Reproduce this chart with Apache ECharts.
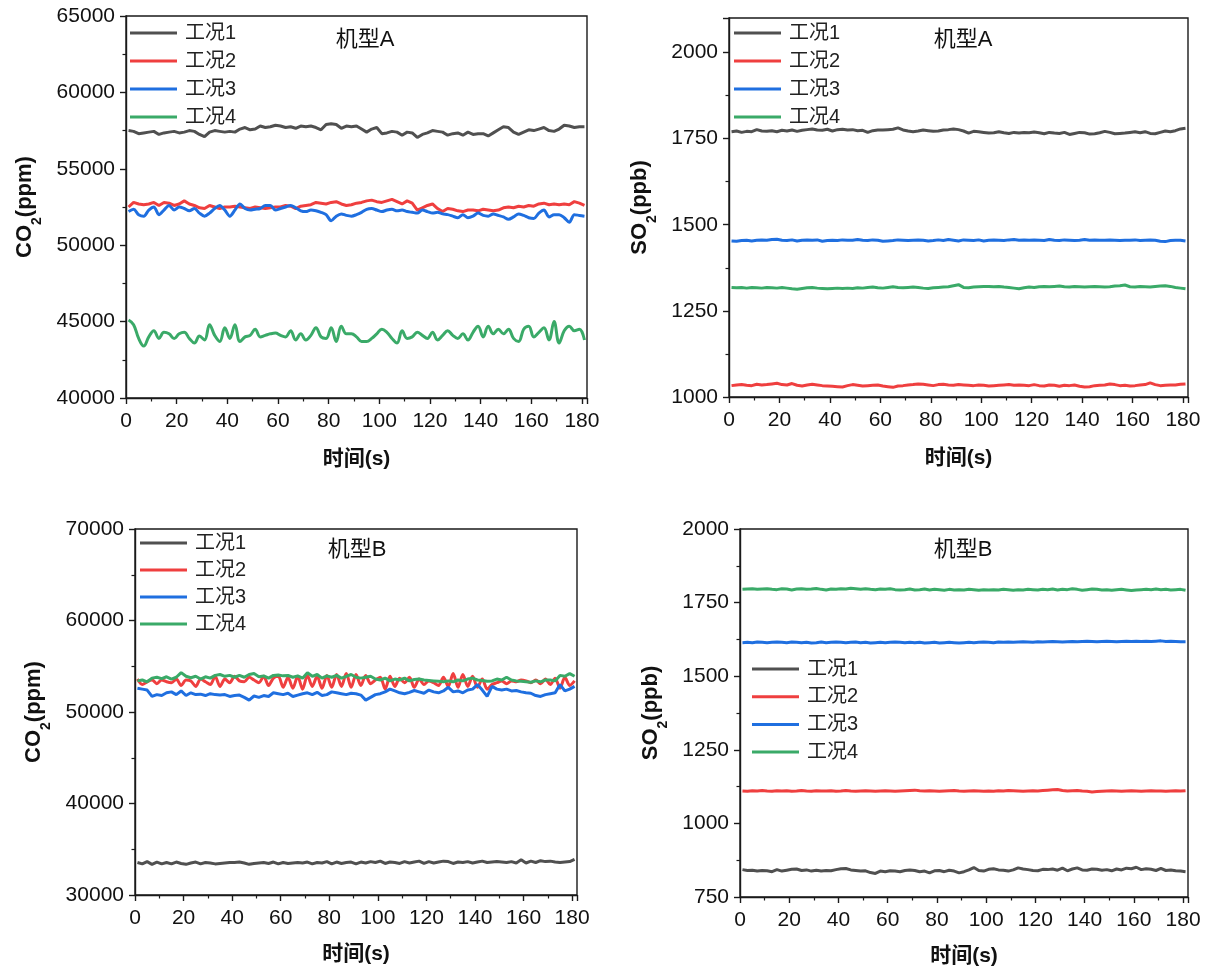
<!DOCTYPE html>
<html><head><meta charset="utf-8">
<script src="https://cdn.jsdelivr.net/npm/echarts@6/dist/echarts.min.js"></script>
<style>html,body{margin:0;padding:0;background:#fff}#c{width:1209px;height:971px}</style>
</head><body><div id="c"></div><script>
const times = [1,3,5,7,9,11,13,15,17,19,21,23,25,27,29,31,33,35,37,39,41,43,45,47,49,51,53,55,57,59,61,63,65,67,69,71,73,75,77,79,81,83,85,87,89,91,93,95,97,99,101,103,105,107,109,111,113,115,117,119,121,123,125,127,129,131,133,135,137,139,141,143,145,147,149,151,153,155,157,159,161,163,165,167,169,171,173,175,177,179,181];
const names = ['工况1','工况2','工况3','工况4'];
const xTicks = [0,20,40,60,80,100,120,140,160,180];

// 机型A CO2 (ppm)
const aCO2_1 = [57500,57450,57300,57350,57400,57450,57250,57350,57400,57450,57350,57400,57500,57450,57250,57100,57400,57500,57450,57400,57450,57400,57600,57700,57550,57600,57800,57700,57750,57850,57800,57700,57750,57650,57800,57750,57800,57700,57550,57900,57950,57900,57650,57800,57750,57800,57600,57400,57600,57700,57300,57350,57450,57400,57200,57400,57350,57050,57250,57350,57500,57450,57400,57200,57300,57350,57200,57400,57250,57300,57300,57150,57350,57550,57750,57700,57400,57250,57400,57550,57500,57600,57700,57500,57450,57600,57850,57800,57700,57750,57750];
const aCO2_2 = [52500,52800,52700,52650,52700,52800,52600,52800,52750,52600,52700,52900,52700,52600,52450,52400,52600,52500,52400,52500,52500,52550,52500,52450,52400,52500,52450,52400,52450,52500,52500,52600,52550,52400,52550,52600,52650,52800,52750,52700,52800,52850,52700,52600,52650,52750,52800,52900,52950,52850,52800,52900,53000,52850,52700,52900,52750,52300,52450,52600,52700,52400,52200,52400,52350,52250,52200,52300,52300,52250,52350,52300,52250,52300,52450,52500,52450,52550,52500,52600,52550,52700,52750,52650,52700,52650,52700,52650,52850,52750,52600];
const aCO2_3 = [52200,52350,52000,51900,52300,52500,52000,52300,52600,52300,52500,52400,52250,52400,52100,51900,52100,52400,52600,52300,51900,52300,52700,52400,52300,52350,52400,52600,52600,52300,52400,52500,52600,52450,52250,52200,52300,52250,52150,52000,51600,51900,52050,51950,51900,52000,52150,52350,52400,52300,52200,52300,52350,52250,52300,52200,52150,52100,52300,52200,52100,52150,52050,52000,51900,51800,52000,51800,51900,52100,51950,51900,52050,51950,51850,51700,51850,52050,51950,51800,51750,52100,52300,51850,52000,52000,51800,51500,52000,51950,51900];
const aCO2_4 = [45100,44800,43900,43400,44000,44400,43900,44300,44200,43900,44200,44300,43900,43600,44050,43800,44800,44100,43700,44600,43900,44800,43700,44000,44100,44500,44000,44100,44200,44250,44100,44000,44400,43800,44200,43800,44100,44600,44000,43900,44600,43700,44700,44200,44200,44000,43700,43700,43900,44200,44500,44300,43900,43600,44400,43900,44000,44300,44100,43900,44300,43800,44100,44400,44100,43900,44200,43800,44300,44700,44000,44700,44200,44500,44200,44500,43900,43700,44500,44700,44000,44300,44600,43800,45000,43600,44400,44700,44400,44500,43800];

// 机型A SO2 (ppb)
const aSO2_1 = [1770,1772,1768,1771,1770,1776,1772,1771,1773,1770,1774,1772,1775,1771,1774,1776,1778,1775,1774,1777,1772,1776,1777,1775,1776,1773,1774,1768,1773,1775,1775,1776,1777,1781,1775,1772,1770,1772,1775,1773,1771,1772,1775,1776,1778,1776,1772,1766,1771,1770,1768,1766,1767,1770,1767,1765,1768,1766,1768,1767,1769,1767,1764,1768,1766,1765,1768,1762,1765,1768,1767,1763,1764,1767,1771,1768,1764,1765,1766,1768,1770,1767,1770,1765,1764,1768,1772,1770,1773,1778,1780];
const aSO2_2 = [1033,1035,1036,1034,1033,1037,1035,1036,1038,1040,1036,1035,1039,1034,1032,1035,1037,1035,1033,1032,1031,1030,1029,1033,1036,1034,1032,1033,1034,1035,1032,1030,1028,1032,1033,1035,1036,1038,1037,1035,1033,1036,1037,1035,1034,1036,1035,1034,1033,1035,1034,1032,1033,1034,1035,1036,1034,1035,1034,1033,1036,1033,1032,1035,1034,1031,1034,1033,1035,1031,1029,1030,1033,1034,1035,1038,1036,1033,1034,1032,1033,1035,1036,1041,1036,1033,1034,1035,1035,1037,1038];
const aSO2_3 = [1453,1452,1454,1455,1453,1455,1456,1455,1457,1458,1455,1454,1456,1453,1455,1456,1455,1456,1452,1454,1455,1454,1456,1455,1455,1457,1455,1454,1456,1455,1452,1453,1454,1456,1455,1454,1455,1456,1455,1453,1454,1456,1454,1457,1455,1453,1456,1455,1454,1456,1453,1455,1456,1455,1454,1456,1457,1455,1456,1455,1456,1455,1454,1457,1455,1454,1456,1455,1454,1455,1457,1455,1456,1455,1455,1456,1455,1454,1455,1455,1456,1454,1455,1456,1455,1452,1451,1454,1455,1455,1453];
const aSO2_4 = [1318,1317,1318,1316,1318,1317,1316,1318,1317,1316,1318,1316,1314,1313,1315,1317,1318,1316,1315,1314,1315,1316,1315,1316,1315,1317,1316,1318,1319,1317,1316,1318,1320,1318,1317,1318,1319,1318,1316,1315,1317,1318,1319,1320,1323,1326,1318,1317,1319,1320,1321,1321,1320,1321,1319,1318,1316,1314,1317,1319,1318,1320,1321,1320,1321,1322,1320,1319,1321,1320,1319,1320,1321,1320,1319,1320,1322,1323,1325,1320,1319,1321,1320,1319,1321,1322,1323,1321,1318,1316,1314];

// 机型B CO2 (ppm)
const bCO2_1 = [33550,33400,33650,33350,33600,33400,33550,33400,33600,33450,33350,33500,33600,33400,33550,33500,33400,33450,33500,33550,33550,33600,33500,33350,33450,33500,33550,33450,33600,33400,33550,33450,33500,33550,33500,33600,33400,33550,33500,33650,33400,33600,33450,33550,33600,33400,33600,33500,33650,33550,33700,33450,33600,33550,33450,33650,33500,33600,33700,33450,33650,33500,33600,33700,33650,33450,33600,33550,33650,33500,33600,33700,33550,33600,33650,33600,33550,33650,33500,33850,33500,33700,33550,33750,33650,33700,33600,33550,33600,33650,33900];
const bCO2_2 = [53600,53000,53300,53500,53100,53500,53300,53200,53600,52900,53500,53400,52800,53600,53300,53000,53900,52800,53600,53200,53900,53400,53300,53800,53500,53200,53900,52900,53700,53900,52700,53800,52600,53900,52500,54000,52800,53900,52600,54000,52700,54100,52800,54200,52700,54100,52900,54000,53100,53500,53800,52500,53900,52800,53700,53200,53800,52700,53600,53000,53400,53200,52900,53800,52800,54200,52700,54100,52800,53900,52700,53600,52500,53000,53200,53400,53100,53400,53300,53500,53400,53200,53500,53100,53600,53000,53700,52600,53800,52900,53400];
const bCO2_3 = [52600,52500,52400,51700,51900,51800,52100,52200,51900,52300,51800,52100,51900,51950,51800,52000,51900,51850,51900,51700,51800,51850,51600,51300,51750,51600,51800,51700,52100,52000,51900,52050,51700,51850,52000,52100,51900,52150,51800,51900,52200,52100,52000,51900,52050,52000,51850,51300,51600,51900,52000,52200,52500,52300,52100,52000,52150,52350,52200,52050,52400,52200,52100,52300,52700,52200,52300,52100,52400,52500,53000,52400,51700,52800,52500,52400,52500,52300,52350,52200,52100,52050,51800,51700,51900,52000,52100,53000,52300,52500,52800];
const bCO2_4 = [53400,53500,53300,53700,53800,53650,53850,53600,53800,54300,53900,53750,53900,53600,53850,53700,54000,54100,53900,54000,53800,54000,53800,54100,54200,53850,53950,53700,54000,54050,53950,54000,53800,53950,53700,54300,53900,54100,53700,53950,53800,54000,53700,53900,54100,53800,53700,53800,53900,53600,53500,53700,53400,53600,53500,53700,53400,53550,53600,53500,53450,53400,53350,53300,53400,53300,53500,53400,53600,53700,53500,53450,53350,53400,53600,53500,53800,53500,53400,53350,53300,53250,53400,53300,53500,53500,53400,54000,53900,54200,53900];

// 机型B SO2 (ppb)
const bSO2_1 = [843,840,841,838,840,839,836,843,838,841,844,845,840,842,838,841,838,840,839,843,846,847,842,840,838,839,833,830,838,836,839,838,836,840,842,840,836,838,832,839,840,836,841,838,832,836,842,850,840,838,844,846,842,841,838,842,849,845,843,840,839,844,843,845,841,848,839,845,849,842,841,845,844,841,843,839,845,842,848,846,851,843,846,844,840,847,840,842,839,838,836];
const bSO2_2 = [1110,1109,1111,1110,1112,1110,1109,1111,1110,1111,1109,1110,1112,1110,1109,1111,1110,1110,1111,1109,1110,1112,1110,1109,1110,1111,1110,1109,1110,1111,1110,1109,1110,1111,1112,1113,1111,1110,1111,1110,1109,1110,1111,1112,1110,1109,1110,1111,1110,1109,1110,1109,1111,1110,1112,1111,1110,1109,1110,1111,1110,1112,1113,1114,1115,1112,1110,1111,1112,1110,1109,1107,1108,1109,1110,1111,1110,1109,1110,1111,1110,1109,1110,1111,1110,1110,1109,1110,1111,1110,1111];
const bSO2_3 = [1614,1615,1614,1616,1615,1614,1615,1616,1615,1614,1616,1615,1614,1615,1613,1614,1616,1614,1615,1616,1615,1614,1615,1616,1614,1615,1613,1614,1615,1614,1615,1616,1615,1614,1615,1614,1615,1613,1614,1615,1613,1614,1615,1614,1613,1614,1615,1614,1615,1616,1615,1614,1616,1615,1616,1615,1616,1617,1616,1615,1617,1616,1617,1618,1617,1616,1617,1618,1617,1618,1619,1618,1617,1618,1619,1618,1617,1618,1619,1618,1619,1618,1619,1618,1619,1620,1618,1619,1618,1617,1617];
const bSO2_4 = [1795,1796,1797,1795,1796,1797,1795,1794,1797,1796,1793,1796,1797,1795,1796,1798,1795,1793,1796,1795,1797,1796,1799,1797,1795,1797,1795,1794,1796,1795,1797,1794,1793,1794,1796,1793,1794,1796,1793,1795,1794,1792,1795,1793,1794,1793,1795,1794,1792,1794,1793,1794,1793,1795,1794,1792,1794,1793,1795,1794,1793,1795,1794,1796,1793,1795,1794,1797,1795,1792,1794,1796,1795,1793,1794,1792,1794,1795,1793,1791,1793,1794,1795,1794,1796,1794,1795,1793,1794,1795,1792];

const colors = ['#505050','#ef3f3f','#1f6fe0','#3aaa68'];
const LAT = "'Liberation Sans', Arial, 'Noto Sans CJK SC', sans-serif";
const CJK = "'Liberation Sans', 'Noto Sans CJK SC', sans-serif";

const panels = [
  {grid:{left:126, top:16, width:461, height:382}, y:{min:40000, max:65000, interval:5000}, yname:'{n|CO}{s|2}{n|(ppm)}', yGap:88, xGap:51,
   legend:{left:130, top:23, gap:8}, title:{text:'机型A', x:365, y:40}, data:[aCO2_1,aCO2_2,aCO2_3,aCO2_4], smooth:[false,false,0.3,0.4]},
  {grid:{left:729, top:18, width:459, height:379}, y:{min:1000, max:2100, interval:250}, yname:'{n|SO}{s|2}{n|(ppb)}', yGap:76, xGap:51,
   legend:{left:734, top:23, gap:8}, title:{text:'机型A', x:963, y:40}, data:[aSO2_1,aSO2_2,aSO2_3,aSO2_4], smooth:[false,false,false,false]},
  {grid:{left:135, top:529, width:442, height:366}, y:{min:30000, max:70000, interval:10000}, yname:'{n|CO}{s|2}{n|(ppm)}', yGap:88, xGap:49,
   legend:{left:140, top:533, gap:7}, title:{text:'机型B', x:357, y:550}, data:[bCO2_1,bCO2_2,bCO2_3,bCO2_4], smooth:[false,0.3,false,false]},
  {grid:{left:740, top:529, width:448, height:368}, y:{min:750, max:2000, interval:250}, yname:'{n|SO}{s|2}{n|(ppb)}', yGap:76, xGap:49,
   legend:{left:752, top:659, gap:7.7}, title:{text:'机型B', x:963, y:550}, data:[bSO2_1,bSO2_2,bSO2_3,bSO2_4], smooth:[false,false,false,false]}
];

const axisLineStyle = {color:'#1a1a1a', width:1.4};
const option = {
  animation:false,
  backgroundColor:'#ffffff',
  grid:[], xAxis:[], yAxis:[], series:[], legend:[], graphic:[]
};

panels.forEach((p, gi) => {
  option.grid.push(Object.assign({show:true, borderColor:'#1a1a1a', borderWidth:1.4, backgroundColor:'transparent'}, p.grid));
  option.xAxis.push({
    type:'value', gridIndex:gi, min:0, max:182, interval:20,
    axisLine:{show:true, onZero:false, lineStyle:axisLineStyle},
    axisTick:{show:true, inside:false, length:6, lineStyle:axisLineStyle},
    minorTick:{show:true, splitNumber:2, length:3.5, lineStyle:{color:'#1a1a1a', width:1.2}},
    splitLine:{show:false},
    axisLabel:{fontSize:21, color:'#111', fontFamily:LAT, margin:13,
      formatter:v => xTicks.indexOf(v) >= 0 ? String(v) : ''},
    name:'时间(s)', nameLocation:'middle', nameGap:p.xGap,
    nameTextStyle:{fontSize:21, fontWeight:'bold', color:'#111', fontFamily:CJK}
  });
  const ymin = p.y.min, yint = p.y.interval;
  option.yAxis.push({
    type:'value', gridIndex:gi, min:p.y.min, max:p.y.max, interval:p.y.interval,
    axisLine:{show:true, onZero:false, lineStyle:axisLineStyle},
    axisTick:{show:true, inside:false, length:6, lineStyle:axisLineStyle},
    minorTick:{show:true, splitNumber:2, length:3.5, lineStyle:{color:'#1a1a1a', width:1.2}},
    splitLine:{show:false},
    axisLabel:{fontSize:21, color:'#111', fontFamily:LAT, margin:11,
      formatter:v => ((v - ymin) % yint === 0) ? String(v) : ''},
    name:p.yname, nameLocation:'middle', nameGap:p.yGap,
    nameTextStyle:{color:'#111', fontFamily:LAT,
      rich:{n:{fontSize:22, fontWeight:'bold', color:'#111', fontFamily:LAT, lineHeight:26},
            s:{fontSize:14, fontWeight:'bold', color:'#111', fontFamily:LAT, lineHeight:26, verticalAlign:'bottom', padding:[0,0,-6,0]}}}
  });
  p.data.forEach((vals, si) => {
    option.series.push({
      type:'line', name:names[si], xAxisIndex:gi, yAxisIndex:gi,
      data: vals.map((v, i) => [times[i], v]),
      showSymbol:false, symbol:'none', smooth:p.smooth[si],
      lineStyle:{width:3, color:colors[si]}, itemStyle:{color:colors[si]},
      z: 2
    });
  });
  option.legend.push({
    data:names, orient:'vertical', left:p.legend.left, top:p.legend.top, padding:0,
    itemGap:p.legend.gap, itemWidth:47, itemHeight:3, icon:'rect', selectedMode:false,
    textStyle:{fontSize:20, color:'#222', fontFamily:CJK, lineHeight:18, padding:[0,0,0,3]}
  });
  option.graphic.push({
    type:'text', x:p.title.x, y:p.title.y,
    style:{text:p.title.text, align:'center', verticalAlign:'middle', textAlign:'center', textVerticalAlign:'middle',
      font:"22px 'Liberation Sans', 'Noto Sans CJK SC', sans-serif", fill:'#111'}
  });
});

const chart = echarts.init(document.getElementById('c'), null, {renderer:'canvas'});
chart.setOption(option);
</script></body></html>
